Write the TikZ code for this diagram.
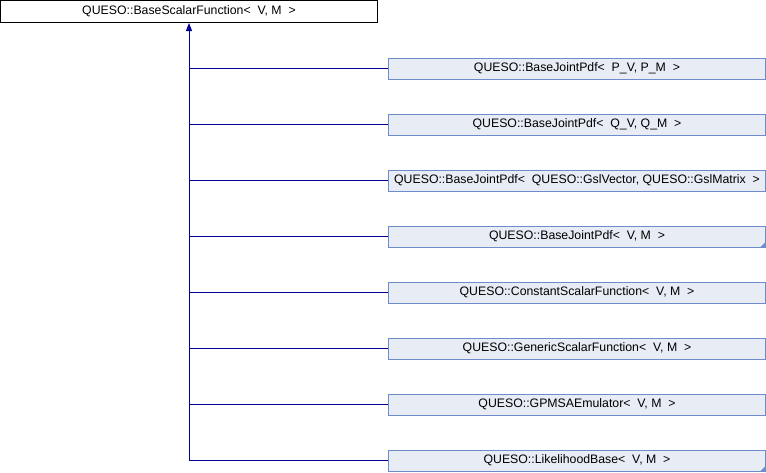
\documentclass[tikz,border=0pt]{standalone}
\usepackage{fontspec}
\setmainfont{Liberation Sans}
\usetikzlibrary{arrows.meta}
\definecolor{boxfill}{RGB}{232,236,245}
\definecolor{boxline}{RGB}{110,139,203}
\definecolor{linkcol}{RGB}{0,0,150}
\begin{document}
\begin{tikzpicture}[x=1pt,y=-1pt,
  basebox/.style={draw=black,fill=white,line width=1pt,minimum width=377pt,minimum height=22pt,inner sep=0pt,font=\fontsize{12.3pt}{14pt}\selectfont},
  childbox/.style={draw=boxline,fill=boxfill,line width=1pt,minimum width=377pt,minimum height=21pt,inner sep=0pt,font=\fontsize{12.3pt}{14pt}\selectfont},
  link/.style={draw=linkcol,line width=1pt},
  marker/.style={fill=boxline}]
\useasboundingbox (0,0) rectangle (766,472);
\node[basebox] (top) at (189,11.5) {QUESO::BaseScalarFunction<~~V,~M~~>};
\node[childbox] (c1) at (577,68.5) {QUESO::BaseJointPdf<~~P\_V,~P\_M~~>};
\node[childbox] (c2) at (577,124.5) {QUESO::BaseJointPdf<~~Q\_V,~Q\_M~~>};
\node[childbox] (c3) at (577,180.5) {QUESO::BaseJointPdf<~~QUESO::GslVector,~QUESO::GslMatrix~~>};
\node[childbox] (c4) at (577,236.5) {QUESO::BaseJointPdf<~~V,~M~~>};
\node[childbox] (c5) at (577,292.5) {QUESO::ConstantScalarFunction<~~V,~M~~>};
\node[childbox] (c6) at (577,348.5) {QUESO::GenericScalarFunction<~~V,~M~~>};
\node[childbox] (c7) at (577,404.5) {QUESO::GPMSAEmulator<~~V,~M~~>};
\node[childbox] (c8) at (577,460.5) {QUESO::LikelihoodBase<~~V,~M~~>};
\fill[marker] (c4.south east) -- ++(-6,0) -- ++(6,-6) -- cycle;
\fill[marker] (c8.south east) -- ++(-6,0) -- ++(6,-6) -- cycle;
\draw[link,-{Triangle[width=6pt,length=8pt]}] (c8.west) -| (top.south);
\foreach \n in {c1,c2,c3,c4,c5,c6,c7}{
  \draw[link] (\n.west) -- (\n.west -| top.south);
}
\end{tikzpicture}
\end{document}
